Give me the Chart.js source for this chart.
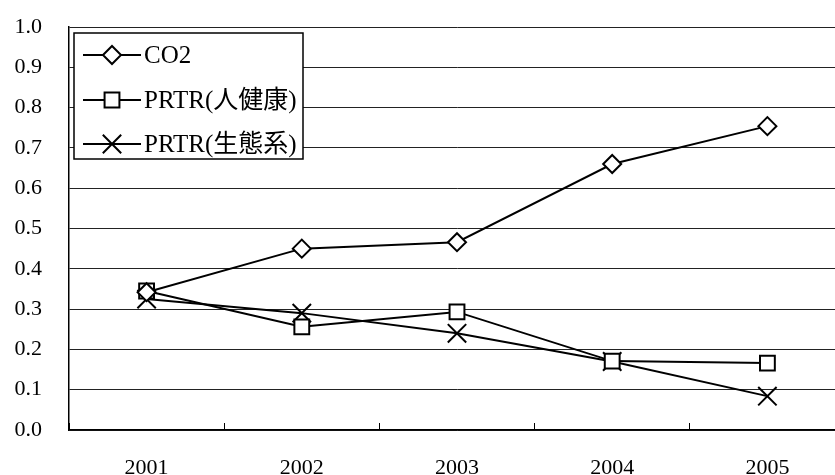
<!DOCTYPE html>
<html>
<head>
<meta charset="utf-8">
<script src="https://cdn.jsdelivr.net/npm/chart.js@4.4.1/dist/chart.umd.min.js"></script>
<style>
  html, body { margin: 0; padding: 0; background: #fff; overflow: hidden; }
  #wrap { width: 860px; height: 475px; }
</style>
</head>
<body>
<div id="wrap"><canvas id="chart" width="860" height="475"></canvas></div>
<script>
// values
const years = ['2001', '2002', '2003', '2004', '2005'];
const co2 = [0.342, 0.45, 0.466, 0.66, 0.754];
const prtrHuman = [0.345, 0.256, 0.293, 0.171, 0.166];
const prtrEco = [0.325, 0.29, 0.24, 0.17, 0.084];
const seriesNames = ['CO2', 'PRTR(人健康)', 'PRTR(生態系)'];

const FONT = '"Liberation Serif", "Noto Sans CJK JP", serif';

function makeSet(label, data, style, radius) {
    return {
        label: label,
        data: data,
        borderColor: '#000',
        borderWidth: 2,
        pointStyle: style,
        pointRadius: radius,
        pointHoverRadius: radius,
        pointBackgroundColor: '#fff',
        pointBorderColor: '#000',
        pointBorderWidth: 2,
        tension: 0
    };
}

// legend box drawn by hand: line - marker - line, then text
const boxLegend = {
    id: 'boxLegend',
    afterDatasetsDraw(chart) {
        const ctx = chart.ctx;
        const x0 = 74, y0 = 33, w = 229, h = 126;
        ctx.save();
        ctx.fillStyle = '#fff';
        ctx.fillRect(x0, y0, w, h);
        ctx.strokeStyle = '#000';
        ctx.lineWidth = 1.5;
        ctx.strokeRect(x0, y0, w, h);
        const rows = [55, 100, 144];
        chart.data.datasets.forEach((ds, i) => {
            const y = rows[i];
            ctx.strokeStyle = '#000';
            ctx.lineWidth = 2;
            ctx.beginPath();
            ctx.moveTo(83, y);
            ctx.lineTo(141, y);
            ctx.stroke();
            ctx.fillStyle = '#fff';
            ctx.strokeStyle = '#000';
            Chart.helpers.drawPoint(ctx, {
                pointStyle: ds.pointStyle,
                radius: ds.pointRadius,
                borderWidth: 2,
                rotation: 0
            }, 112, y);
            ctx.fillStyle = '#000';
            ctx.font = '25px ' + FONT;
            ctx.textBaseline = 'middle';
            ctx.textAlign = 'left';
            ctx.fillText(ds.label, 144, y + 1);
        });
        ctx.restore();
    }
};

new Chart(document.getElementById('chart'), {
    type: 'line',
    data: {
        labels: years,
        datasets: [
            makeSet(seriesNames[0], co2, 'rectRot', 9),
            makeSet(seriesNames[1], prtrHuman, 'rect', 10.5),
            makeSet(seriesNames[2], prtrEco, 'crossRot', 13)
        ]
    },
    options: {
        responsive: false,
        animation: false,
        layout: { padding: { top: 27, right: 0, left: 0, bottom: 0 } },
        plugins: {
            legend: { display: false },
            tooltip: { enabled: false }
        },
        scales: {
            x: {
                offset: true,
                grid: {
                    offset: true,
                    drawOnChartArea: false,
                    color: '#000',
                    tickLength: -7,
                    lineWidth: 1
                },
                border: { color: '#000', width: 1.5 },
                ticks: {
                    color: '#000',
                    font: { family: FONT, size: 22 },
                    padding: 32,
                    maxRotation: 0
                },
                afterFit(scale) {
                    scale.height = 45;
                    scale.paddingLeft = 0;
                    scale.paddingRight = 0;
                }
            },
            y: {
                min: 0,
                max: 1,
                ticks: {
                    stepSize: 0.1,
                    color: '#000',
                    font: { family: FONT, size: 22 },
                    padding: 27,
                    callback: v => v.toFixed(1)
                },
                grid: { color: '#222', lineWidth: 1, drawTicks: false },
                border: { color: '#000', width: 1.5 },
                afterFit(scale) {
                    scale.width = 69;
                    scale.paddingTop = 0;
                    scale.paddingBottom = 0;
                }
            }
        }
    },
    plugins: [boxLegend]
});
</script>
</body>
</html>
